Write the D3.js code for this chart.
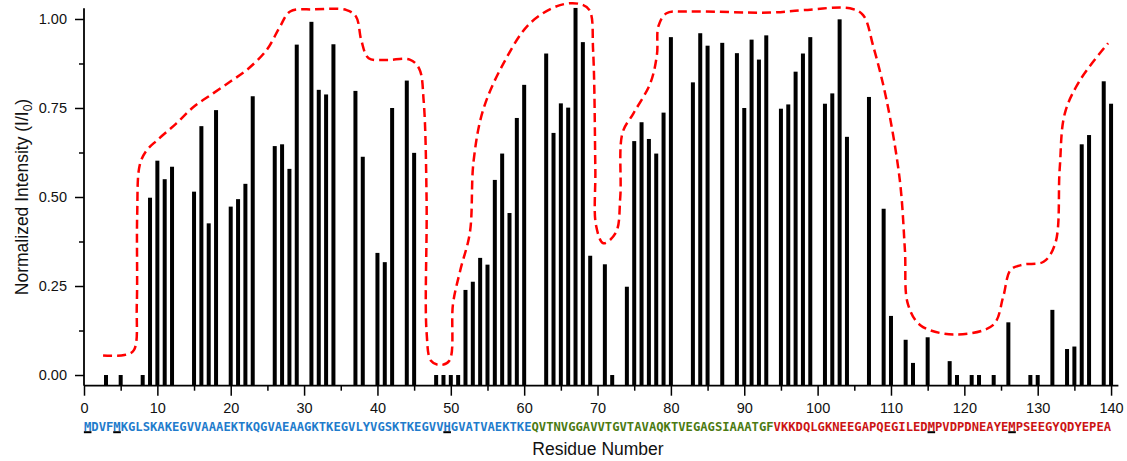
<!DOCTYPE html>
<html>
<head>
<meta charset="utf-8">
<script src="https://cdn.jsdelivr.net/npm/d3@7"></script>
<style>
  html, body { margin: 0; padding: 0; background: #fff; }
  svg { display: block; }
</style>
</head>
<body>
<svg id="chart" width="1127" height="461"></svg>
<script>
// ---- data ----
const residues = [3,5,8,9,10,11,12,15,16,17,18,20,21,22,23,26,27,28,29,31,32,33,34,37,38,40,41,42,44,45,
  48,49,50,51,52,53,54,55,56,57,58,59,60,63,64,65,66,67,68,69,71,72,74,75,76,77,78,79,80,
  83,84,85,87,89,90,91,92,93,95,96,97,98,99,101,102,103,104,107,109,110,112,113,115,118,119,121,122,124,126,129,130,132,134,135,136,137,139,140];
const intensities = [0,0,0,0.498,0.602,0.55,0.585,0.515,0.699,0.426,0.744,0.473,0.494,0.537,0.783,0.643,0.648,0.579,0.928,0.992,0.801,0.788,0.929,0.798,0.613,0.343,0.317,0.75,0.827,0.624,
  0,0,0,0,0.239,0.262,0.329,0.31,0.548,0.622,0.455,0.722,0.815,0.903,0.68,0.763,0.751,1.031,0.935,0.335,0.311,0,0.248,0.657,0.71,0.663,0.622,0.737,0.949,
  0.822,0.96,0.925,0.933,0.904,0.75,0.942,0.886,0.954,0.748,0.76,0.852,0.903,0.949,0.762,0.791,0.999,0.669,0.781,0.467,0.166,0.099,0.034,0.106,0.039,0,0,0,0,0.148,0,0,0.183,0.073,0.08,0.648,0.674,0.825,0.762];

// envelope (red dashed): [residue, value]
const envelopeX = [2.6,5.5,6.8,7.2,7.25,7.6,8.5,10,12.6,15,17.6,20,22.2,24.9,26.7,28.1,31.3,35.8,37.1,37.8,38.8,41.3,44.4,45.7,46.3,46.7,46.7,47.3,48.5,49.8,50.3,51.3,52.6,53.1,54.4,57.2,60.8,64.9,67.6,68.9,69.4,69.7,69.8,70.8,72.5,73.1,73.4,74.9,77.2,78.1,78.3,79.4,82.1,93.5,98.1,104.4,106.2,107.6,109.4,111.2,111.9,112.3,114.0,118.5,123.9,125.3,126.3,128,130.8,132.4,133,133.7,135.8,139.6];
const envelopeY = [0.055,0.056,0.07,0.2,0.45,0.59,0.63,0.66,0.707,0.754,0.791,0.825,0.857,0.913,0.978,1.021,1.027,1.025,1.006,0.94,0.89,0.885,0.886,0.86,0.77,0.49,0.12,0.04,0.028,0.04,0.2,0.295,0.4,0.6,0.744,0.876,0.988,1.039,1.042,1.025,0.91,0.58,0.42,0.37,0.4,0.5,0.68,0.735,0.82,0.9,0.98,1.016,1.021,1.018,1.025,1.03,1.011,0.922,0.772,0.548,0.351,0.2,0.14,0.114,0.14,0.22,0.295,0.31,0.318,0.37,0.58,0.735,0.829,0.932];

const sequence = "MDVFMKGLSKAKEGVVAAAEKTKQGVAEAAGKTKEGVLYVGSKTKEGVVHGVATVAEKTKEQVTNVGGAVVTGVTAVAQKTVEGAGSIAAATGFVKKDQLGKNEEGAPQEGILEDMPVDPDNEAYEMPSEEGYQDYEPEA";
const underlined = [1,5,50,116,127];
const regionEnds = [61, 94, 140];          // blue to 61, green to 94, red to 140
const regionColors = ["#1f7ccc", "#4b7a12", "#cc1414"];

const yTicks = [0, 0.25, 0.5, 0.75, 1.0];
const yMinor = [0.125, 0.375, 0.625, 0.875];
const xTicks = [0,10,20,30,40,50,60,70,80,90,100,110,120,130,140];
const xMinor = [5,15,25,35,45,55,65,75,85,95,105,115,125,135];

// ---- drawing ----
const svg = d3.select("#chart");
const x = d3.scaleLinear().domain([0, 141]).range([84, 1118.4]);
const y = d3.scaleLinear().domain([-0.03, 1.03]).range([385.7, 8.3]);
const font = "'Liberation Sans', Arial, sans-serif";

// bars
svg.append("g").selectAll("rect").data(residues).join("rect")
  .attr("x", (d) => x(d) - 2)
  .attr("width", 4)
  .attr("y", (d, i) => y(intensities[i]))
  .attr("height", (d, i) => y.range()[0] - y(intensities[i]))
  .attr("fill", "#000");

// envelope
const env = envelopeX.map((v, i) => [v, envelopeY[i]]);
svg.append("path")
  .attr("d", d3.line().x(d => x(d[0])).y(d => y(d[1])).curve(d3.curveCatmullRom.alpha(0.5))(env))
  .attr("fill", "none")
  .attr("stroke", "#ff0000")
  .attr("stroke-width", 2.5)
  .attr("stroke-dasharray", "9,5");

// y axis
const gy = svg.append("g").attr("transform", `translate(${x(0)},0)`)
  .call(d3.axisLeft(y).tickValues(yTicks).tickFormat(d3.format(".2f")).tickSize(9).tickPadding(8));
gy.append("g").call(d3.axisLeft(y).tickValues(yMinor).tickFormat("").tickSize(5));
gy.selectAll(".domain").remove();
gy.append("line").attr("x1", 0).attr("x2", 0).attr("y1", y.range()[1]).attr("y2", y.range()[0]).attr("stroke", "#000").attr("stroke-width", 1.8);

// x axis
const gx = svg.append("g").attr("transform", `translate(0,${y.range()[0]})`)
  .call(d3.axisBottom(x).tickValues(xTicks).tickFormat(d3.format("d")).tickSize(10).tickPadding(7));
gx.append("g").call(d3.axisBottom(x).tickValues(xMinor).tickFormat("").tickSize(5));
gx.selectAll(".domain").remove();
gx.append("line").attr("x1", x.range()[0]).attr("x2", x.range()[1]).attr("y1", 0).attr("y2", 0).attr("stroke", "#000").attr("stroke-width", 1.8);

svg.selectAll(".tick line").attr("stroke", "#000").attr("stroke-width", 1.5);
svg.selectAll(".tick text").attr("font-family", font).attr("font-size", 14.5).attr("fill", "#111");

// y label
const yl = svg.append("text")
  .attr("transform", "translate(28,197) rotate(-90)")
  .attr("text-anchor", "middle")
  .attr("font-family", font).attr("font-size", 17.5).attr("fill", "#111");
yl.append("tspan").text("Normalized Intensity (I/I");
yl.append("tspan").attr("font-size", 12).attr("dy", 4).text("0");
yl.append("tspan").attr("dy", -4).text(")");

// x label
svg.append("text")
  .attr("x", 598).attr("y", 455)
  .attr("text-anchor", "middle")
  .attr("font-family", font).attr("font-size", 17.5).attr("fill", "#111")
  .text("Residue Number");

// sequence
const letters = sequence.split("").map((c, i) => ({ c, n: i + 1 }));
const colorOf = (n) => regionColors[regionEnds.findIndex(e => n <= e)];
const gs = svg.append("g");
gs.selectAll("text").data(letters).join("text")
  .attr("x", d => x(d.n - 0.5))
  .attr("y", 431)
  .attr("text-anchor", "middle")
  .attr("font-family", "'DejaVu Sans Mono', monospace")
  .attr("font-weight", "bold")
  .attr("font-size", 12.2)
  .attr("fill", d => colorOf(d.n))
  .text(d => d.c);
gs.selectAll("rect").data(underlined).join("rect")
  .attr("x", d => x(d - 0.5) - 3.8)
  .attr("width", 7.6)
  .attr("y", 431.2)
  .attr("height", 2)
  .attr("fill", "#000");
</script>
</body>
</html>
